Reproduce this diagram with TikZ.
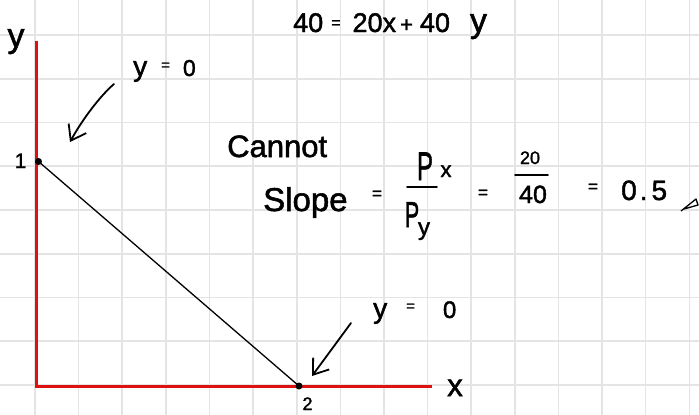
\documentclass[tikz,border=0pt]{standalone}
\usepackage{fontspec}
\setmainfont{Liberation Sans}
\usetikzlibrary{arrows.meta}
\definecolor{gridc}{HTML}{E4E4E4}
\definecolor{axisred}{HTML}{DD1111}
\newcommand{\fs}[1]{\font\handtmp="Liberation Sans:embolden=1.6" at #1pt\handtmp}
\begin{document}
\begin{tikzpicture}[x=1pt,y=-1pt,
  gridline/.style={gridc, line width=1.6pt},
  axisline/.style={axisred, line width=3pt},
  budget/.style={black, line width=1.3pt},
  dotnode/.style={circle, fill=black, inner sep=0pt, minimum size=7pt},
  hand/.style={inner sep=0pt, anchor=base, text=black},
  handw/.style={inner sep=0pt, anchor=base west, text=black},
  pointer/.style={black, line width=1.8pt, line cap=round, line join=round,
    -{Straight Barb[length=14pt,width=20pt,line width=1.8pt]}},
  fracbar/.style={black, line width=1.6pt, line cap=round},
]
\fill[white] (0,0) rectangle (699,415);
\useasboundingbox (0,0) rectangle (699,415);
% grid
\foreach \k in {0,...,15} \draw[gridline] ({35+43.62*\k},0) -- ({35+43.62*\k},415);
\foreach \k in {0,...,8} \draw[gridline] (0,{35+43.75*\k}) -- (699,{35+43.75*\k});
% axes
\coordinate (ytop) at (36.7,41);
\coordinate (orig) at (36.7,386);
\coordinate (xend) at (432,386);
\draw[axisline] (ytop) -- (orig) -- (xend);
% budget line
\node[dotnode] (p1) at (38.5,161.5) {};
\node[dotnode] (p2) at (299,386) {};
\draw[budget] (p1.center) -- (p2.center);
% axis labels
\node[hand, font=\fs{34}] (ylab) at (16,47) {y};
\node[hand, font=\fs{31}] (xlab) at (455,396) {x};
\node[hand, font=\fs{21}] (one) at (20.5,168) {1};
\node[hand, font=\fs{18}] (two) at (307.5,410) {2};
% pointers
\coordinate (a1s) at (114,84);
\coordinate (a1e) at (70,142);
\draw[pointer] (a1s) .. controls (100,96) and (82,120) .. (a1e);
\coordinate (a2s) at (351,323);
\coordinate (a2e) at (312,376);
\draw[pointer] (a2s) -- (a2e);
% y = 0 labels
\node[handw, font=\fs{28}] (yzero1) at (133,76) {y\hspace{14pt}\raisebox{6pt}{\fs{15}=}\hspace{13pt}{\fs{23}0}};
\node[handw, font=\fs{28}] (yzero2) at (373,318) {y\hspace{19pt}\raisebox{7pt}{\fs{15}=}\hspace{28pt}{\fs{24}0}};
% top equation
\node[handw, font=\fs{27}] (eq) at (293,32) {40\hspace{8pt}\raisebox{4pt}{\fs{16}=}\hspace{12pt}20x\hspace{4pt}{\fs{22}+}\hspace{7pt}40\hspace{20pt}{\fs{34}y}};
% cannot / slope
\node[handw, font=\fs{31}] (cannot) at (227,157) {Cannot};
\node[handw, font=\fs{33}] (slope) at (263,211) {Slope};
\node[hand, font=\fs{17}] (eq1) at (377,199) {=};
\node[hand, font=\fs{40}] (px) at (425,180) {\scalebox{0.6}[1]{P}};
\node[hand, font=\fs{22}] (pxs) at (446,177) {x};
\coordinate (fb1l) at (407,187);
\coordinate (fb1r) at (437,187);
\draw[fracbar] (fb1l) -- (fb1r);
\node[hand, font=\fs{36}] (py) at (412,227) {\scalebox{0.6}[1]{P}};
\node[hand, font=\fs{24}] (pys) at (424,235) {y};
\node[hand, font=\fs{17}] (eq2) at (483,198) {=};
\node[hand, font=\fs{18}] (twenty) at (530,164) {20};
\coordinate (fb2l) at (515,175);
\coordinate (fb2r) at (548,175);
\draw[fracbar] (fb2l) -- (fb2r);
\node[hand, font=\fs{25}] (forty) at (533,203) {40};
\node[hand, font=\fs{17}] (eq3) at (593,192) {=};
\node[handw, font=\fs{28}] (half) at (621,200) {0\hspace{3pt}.\hspace{4pt}5};
% pencil mark
\draw[black, line width=1.3pt, line join=round] (681,211) -- (696,199) -- (698,205) -- (684,209);
\end{tikzpicture}
\end{document}
